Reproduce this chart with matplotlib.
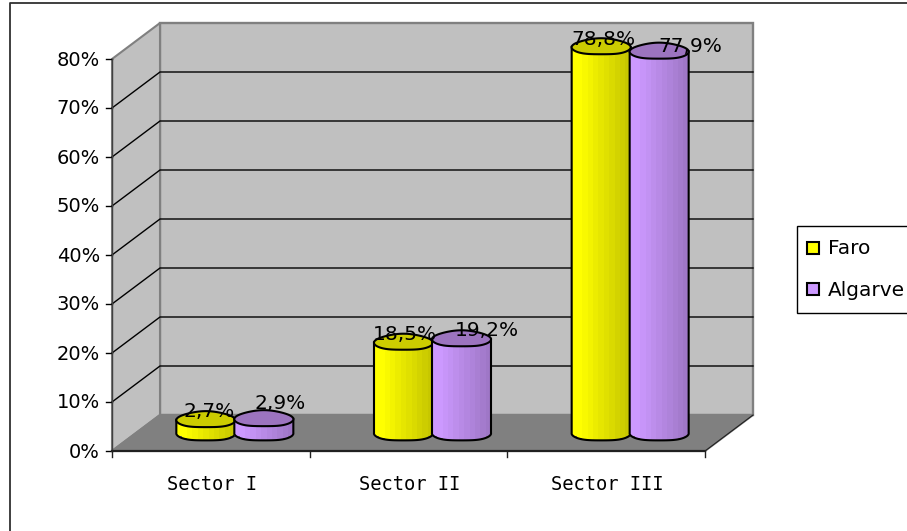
import numpy as np
import matplotlib
matplotlib.use("Agg")
import matplotlib.pyplot as plt
from matplotlib.patches import Polygon, Rectangle
from matplotlib.colors import to_rgb

categories = ["Sector I", "Sector II", "Sector III"]
series_names = ["Faro", "Algarve"]
faro = [2.7, 18.5, 78.8]
algarve = [2.9, 19.2, 77.9]
y_ticks = [0, 10, 20, 30, 40, 50, 60, 70, 80]

W, H = 907, 531
fig = plt.figure(figsize=(W / 100, H / 100), dpi=100)
ax = fig.add_axes([0, 0, 1, 1])
ax.set_xlim(0, W)
ax.set_ylim(H, 0)
ax.axis("off")

X0, X1, Y0, PER = 112, 705, 451, 4.9
DX, DY = 48, -36
TOP = Y0 - 80 * PER
FONT = "DejaVu Sans"
GREY = "#808080"

def wall(pts, fc, ec=GREY, lw=1.5, z=1):
    ax.add_patch(Polygon(pts, closed=True, fc=fc, ec=ec, lw=lw, zorder=z))

# chart frame: only the left and top edges fall inside the picture
ax.plot([9.5, 9.5, W], [H, 3, 3], color="#303030", lw=1.3, zorder=0)

wall([(X0 + DX, Y0 + DY), (X1 + DX, Y0 + DY), (X1 + DX, TOP + DY), (X0 + DX, TOP + DY)], "#c0c0c0", lw=1.7)
wall([(X0, Y0), (X0 + DX, Y0 + DY), (X0 + DX, TOP + DY), (X0, TOP)], "#c0c0c0", lw=1.5)
wall([(X0, Y0), (X1, Y0), (X1 + DX, Y0 + DY), (X0 + DX, Y0 + DY)], GREY)

for t in y_ticks:
    y = Y0 - t * PER
    if 0 < t < 80:
        ax.plot([X0, X0 + DX, X1 + DX], [y, y + DY, y + DY], color="black", lw=1, zorder=2)
    ax.plot([X0 - 6, X0], [y, y], color="black", lw=1, zorder=2)
    ax.text(X0 - 12, y + 1, f"{t}%", ha="right", va="center", fontsize=14, family=FONT, color="black")
ax.plot([X0, X0], [Y0, TOP], color="#404040", lw=1, zorder=3)
ax.plot([X0, X1], [Y0, Y0], color="#202020", lw=1.6, zorder=3)
ax.plot([X1, X1 + DX], [Y0, Y0 + DY], color="#202020", lw=0.8, zorder=3)

n = len(categories)
step = (X1 - X0) / n
for i in range(n + 1):
    x = X0 + i * step
    ax.plot([x, x], [Y0, Y0 + 6], color="#202020", lw=1, zorder=3)
for i, c in enumerate(categories):
    ax.text(X0 + (i + 0.5) * step + 1, 484, c, ha="center", va="center",
            fontsize=13.5, family="DejaVu Sans Mono")

BASE = 433
HALF_W = 29.5
HALF_H = 8
BANDS = 11
SERIES_DX = [-5, 53]
# label offsets from the top of each bar, per series and category
LABEL_DX = [[3, 1, 2], [16, 25, 31]]
LABEL_DY = [[-8, -8, -7], [-15, -8, -5]]

def wobble(th, cx, cy):
    rx = HALF_W * (1 + 0.01 * np.sin(5 * th))
    ry = HALF_H * (1 + 0.08 * np.sin(3 * th))
    return np.c_[cx + rx * np.cos(th), cy + ry * np.sin(th)]

def cylinder(cx, v, col, top_col, z):
    top = BASE - v * PER
    xs = np.linspace(-1, 1, BANDS + 1)
    base = np.array(to_rgb(col))
    for k, (a, b) in enumerate(zip(xs[:-1], xs[1:])):
        shade = 1 - 0.22 * max(0, (k - 1) / (BANDS - 2))
        h = HALF_H * np.sqrt(max(0, 1 - ((a + b) / 2) ** 2))
        ax.add_patch(Rectangle((cx + a * HALF_W, top), (b - a) * HALF_W + 0.4, BASE - top + h,
                               fc=base * shade, ec="none", zorder=z))
    th = np.linspace(0, np.pi, 60)
    lower = wobble(th, cx, BASE)
    outline = np.r_[[(cx + HALF_W, top)], lower, [(cx - HALF_W, top)]]
    ax.plot(outline[:, 0], outline[:, 1], color="black", lw=1.5, zorder=z + 0.1)
    th = np.linspace(0, 2 * np.pi, 120)
    ax.add_patch(Polygon(wobble(th, cx, top), closed=True,
                         fc=top_col, ec="black", lw=1.5, zorder=z + 0.2))

centers = [X0 + (i + 0.5) * step for i in range(n)]
for i in range(n):
    cylinder(centers[i] + SERIES_DX[0], faro[i], "#ffff00", "#cccc00", 5)
    cylinder(centers[i] + SERIES_DX[1], algarve[i], "#cc99ff", "#9c74bf", 6)
    for s, vals in enumerate((faro, algarve)):
        ax.text(centers[i] + SERIES_DX[s] + LABEL_DX[s][i],
                BASE - vals[i] * PER + LABEL_DY[s][i],
                f"{vals[i]:.1f}%".replace(".", ","), ha="center", va="center",
                fontsize=14.5, family=FONT, zorder=9)

ax.add_patch(Rectangle((797, 226), 112, 87, fc="white", ec="black", lw=1, zorder=4))
for name, col, y in zip(series_names, ["#ffff00", "#cc99ff"], [248, 289]):
    ax.add_patch(Rectangle((807, y - 6), 12, 12, fc=col, ec="black", lw=1.5, zorder=5))
    ax.text(828, y + 1, name, ha="left", va="center", fontsize=14.5, family=FONT, zorder=5)

fig.savefig("out.png", dpi=100)
